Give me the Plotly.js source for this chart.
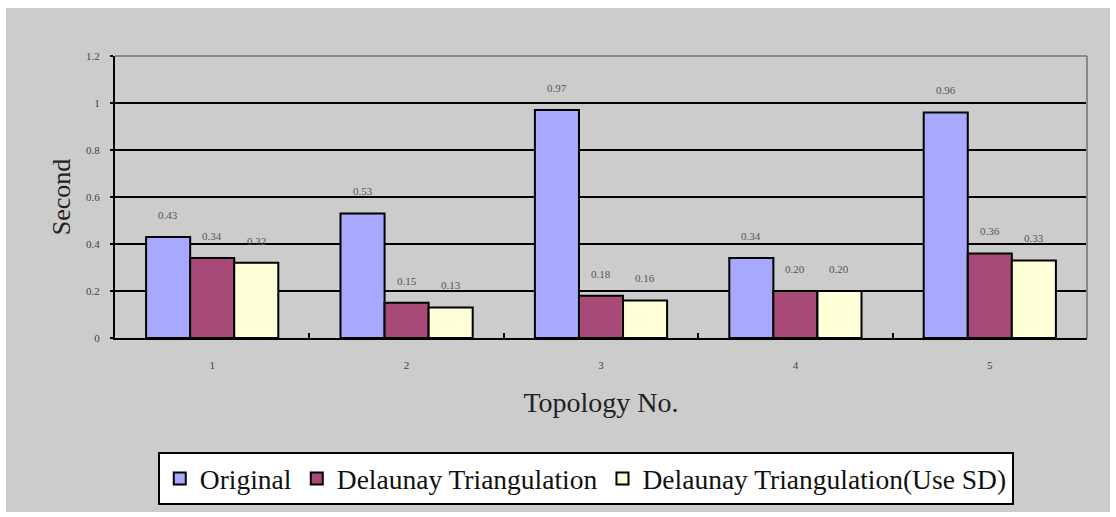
<!DOCTYPE html>
<html><head><meta charset="utf-8">
<script src="https://cdn.plot.ly/plotly-3.0.1.min.js"></script>
<style>html,body{margin:0;padding:0;background:#fff;}#chart{position:absolute;left:6px;top:8px;width:1104px;height:504px;}</style>
</head><body><div id="chart"></div>
<script>
const categories = ['1','2','3','4','5'];
const original = [0.43, 0.53, 0.97, 0.34, 0.96];
const delaunay = [0.34, 0.15, 0.18, 0.20, 0.36];
const delaunaySD = [0.32, 0.13, 0.16, 0.20, 0.33];
const seriesNames = ['Original','Delaunay Triangulation','Delaunay Triangulation(Use SD)'];
const colors = ['#a8a8ff','#a84a78','#ffffd8'];
const series = [original, delaunay, delaunaySD];

const traces = series.map((vals,i)=>({
  type:'bar', x:categories, y:vals, name:seriesNames[i],
  marker:{color:colors[i], line:{color:'#000', width:2}},
  offsetgroup:String(i)
}));

const annotations = [];
series.forEach((vals,i)=>{
  vals.forEach((v,j)=>{
    annotations.push({x:j, y:v, xref:'x', yref:'y', text:v.toFixed(2),
      showarrow:false, yshift:22, xshift:(i-1)*44,
      font:{family:'Liberation Serif', size:11, color:'#555'}});
  });
});

const layout = {
  width:1104, height:504,
  paper_bgcolor:'#cccccc', plot_bgcolor:'#cccccc',
  margin:{l:109, r:23, t:48, b:174, autoexpand:false},
  barmode:'group', bargap:0.32, bargroupgap:0,
  showlegend:true,
  legend:{orientation:'h', x:0.044, y:-0.405, xanchor:'left', yanchor:'top',
    bgcolor:'#fff', bordercolor:'#000', borderwidth:2,
    font:{family:'Liberation Serif', size:27.5, color:'#111'}, itemwidth:30, traceorder:'normal'},
  xaxis:{type:'category', range:[-0.5,4.5], autorange:false, automargin:false,
    showline:true, linecolor:'#000', linewidth:2,
    ticks:'inside', tickson:'boundaries', ticklen:5, tickwidth:2, tickcolor:'#000',
    ticklabelstandoff:16,
    tickfont:{family:'Liberation Serif', size:11, color:'#444'},
    title:{text:'Topology No.', font:{family:'Liberation Serif', size:28, color:'#222'}, standoff:22}},
  yaxis:{range:[0,1.2], autorange:false, automargin:false, dtick:0.2, showline:true, linecolor:'#000', linewidth:2,
    showgrid:true, gridcolor:'#000', gridwidth:2, zeroline:false,
    ticks:'outside', ticklen:3, tickcolor:'#000', tickwidth:2,
    ticklabelstandoff:8,
    tickfont:{family:'Liberation Serif', size:11, color:'#444'},
    title:{text:'Second', font:{family:'Liberation Serif', size:26, color:'#222'}, standoff:8}},
  shapes:[
    {type:'line', xref:'paper', yref:'paper', x0:0, x1:1, y0:1, y1:1, line:{color:'#888', width:2}},
    {type:'line', xref:'paper', yref:'paper', x0:1, x1:1, y0:0, y1:1, line:{color:'#888', width:2}}
  ],
  annotations:annotations
};
Plotly.newPlot('chart', traces, layout, {displayModeBar:false, staticPlot:true});
</script></body></html>
